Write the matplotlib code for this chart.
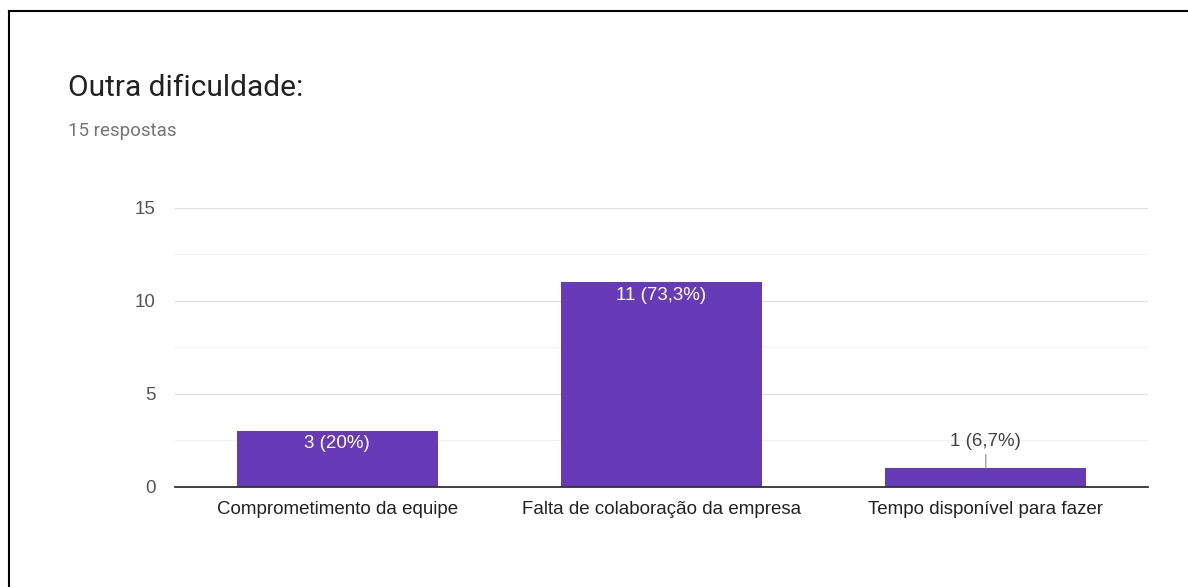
import matplotlib.pyplot as plt
from matplotlib.ticker import MultipleLocator

categories = ["Comprometimento da equipe", "Falta de colaboração da empresa", "Tempo disponível para fazer"]
counts = [3, 11, 1]
pct_labels = ["20%", "73,3%", "6,7%"]
total = 15

purple = "#673ab7"
plt.rcParams['font.family'] = ['Liberation Sans', 'DejaVu Sans']

fig = plt.figure(figsize=(11.88, 5.87), dpi=100)
ax = fig.add_axes([0.1473, 0.1704, 0.819, 0.4753])

x = list(range(len(categories)))
bars = ax.bar(x, counts, width=0.62, color=purple, zorder=3)

ax.set_xlim(-0.5, len(categories) - 0.5)
ax.set_ylim(0, 15)
ax.yaxis.set_major_locator(MultipleLocator(5))
ax.yaxis.set_minor_locator(MultipleLocator(2.5))
ax.grid(axis='y', which='major', color='#e0e0e0', lw=0.9, zorder=0)
ax.grid(axis='y', which='minor', color='#f2f2f2', lw=0.9, zorder=0)

for s in ['top', 'right', 'left']:
    ax.spines[s].set_visible(False)
ax.spines['bottom'].set_color('#333333')
ax.spines['bottom'].set_linewidth(1.3)
ax.spines['bottom'].set_zorder(4)

ax.set_xticks(x)
ax.set_xticklabels(categories, fontsize=13.5, color='#222222')
ax.tick_params(axis='x', length=0, pad=10)
ax.tick_params(axis='y', which='both', length=0, pad=14, labelsize=13.5, labelcolor='#555555')

# value labels: inside the bar when tall enough, otherwise above with a short leader
for b, c, p in zip(bars, counts, pct_labels):
    cx = b.get_x() + b.get_width() / 2
    txt = f"{c} ({p})"
    if c >= 2:
        ax.annotate(txt, (cx, c), xytext=(0, -3), textcoords='offset points',
                    ha='center', va='top', color='white', fontsize=13.5, zorder=5)
    else:
        ax.annotate(txt, (cx, c), xytext=(0, 13), textcoords='offset points',
                    ha='center', va='bottom', color='#444444', fontsize=13.5, zorder=5,
                    arrowprops=dict(arrowstyle='-', color='#888888', lw=0.8,
                                    shrinkA=1, shrinkB=0))

fig.text(68 / 1188, 1 - 88 / 587, "Outra dificuldade:", fontsize=21.5, color='#212121',
         family=['Roboto', 'DejaVu Sans'], va='center', ha='left')
fig.text(68 / 1188, 1 - 131 / 587, f"{total} respostas", fontsize=13.5, color='#757575',
         family=['Roboto', 'DejaVu Sans'], va='center', ha='left')

# frame lines along the top and left edge
fig.add_artist(plt.Line2D([9 / 1188, 1], [1 - 11 / 587, 1 - 11 / 587], color='black', lw=1.5,
                          transform=fig.transFigure))
fig.add_artist(plt.Line2D([9 / 1188, 9 / 1188], [0, 1 - 11 / 587], color='black', lw=1.5,
                          transform=fig.transFigure))

fig.savefig('out.png', dpi=100)
